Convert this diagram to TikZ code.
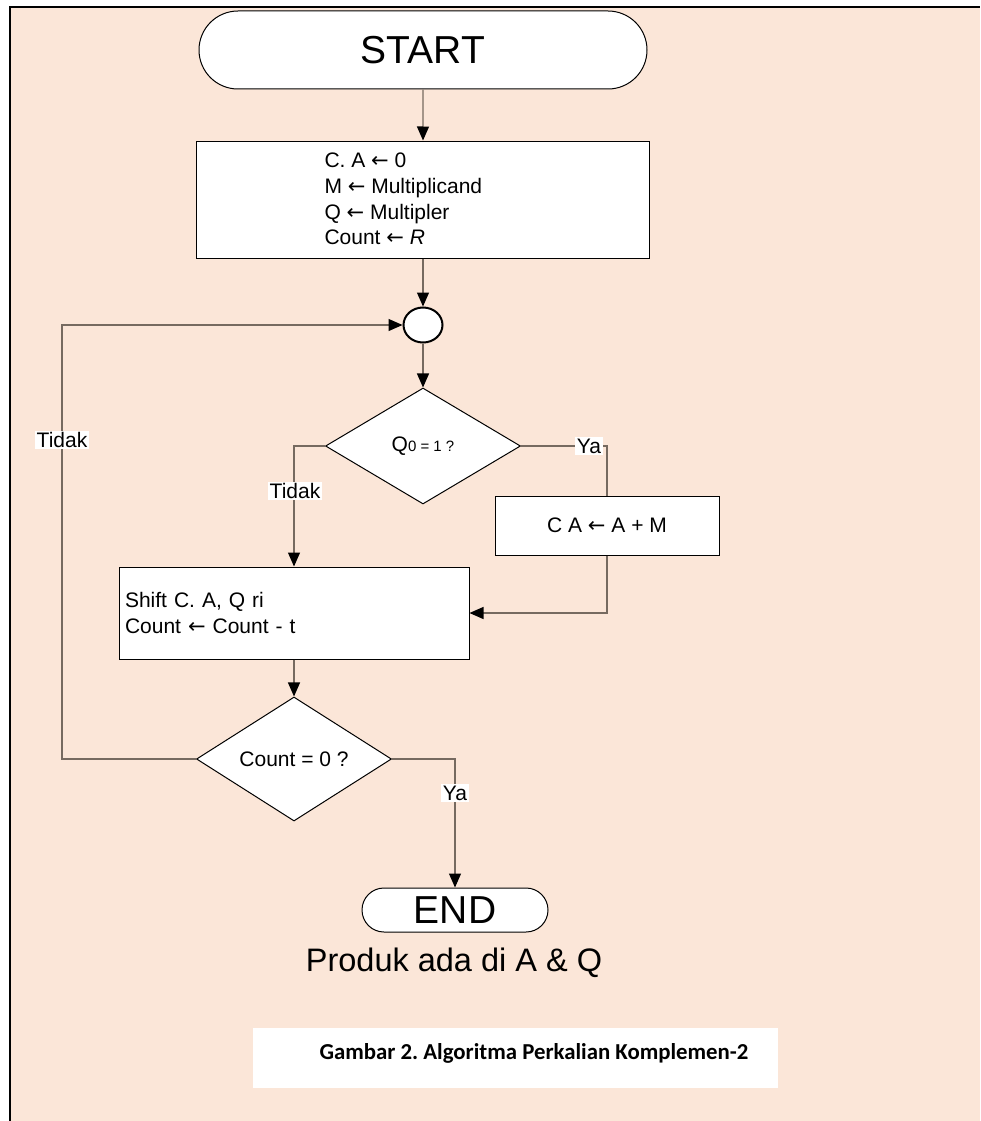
\documentclass[tikz,border=0pt]{standalone}
\usepackage{fontspec}
\setmainfont{Liberation Sans}
\newfontfamily\capfont{Carlito}
\newfontfamily\panahfont{DejaVu Sans}
\newcommand{\kiri}{{\panahfont ←}}
\usetikzlibrary{shapes.geometric,shapes.misc,arrows.meta}
\definecolor{latar}{RGB}{251,230,216}
\definecolor{garis}{RGB}{118,106,96}
\tikzset{
  terminal/.style={rounded rectangle, draw=black, fill=white, line width=1pt,
    inner sep=0pt, font=\fontsize{39}{39}\selectfont},
  kotak/.style={rectangle, draw=black, fill=white, line width=1pt, inner sep=0pt},
  putusan/.style={diamond, draw=black, fill=white, line width=1pt, inner sep=0pt,
    minimum width=195pt, minimum height=116pt},
  hubung/.style={draw=garis, line width=1.2pt},
  alur/.style={hubung, -{Triangle[length=14pt, width=12pt, color=black]}},
  ket/.style={fill=white, inner sep=1.5pt, font=\fontsize{21}{21}\selectfont},
}
\frenchspacing
\begin{document}
\begin{tikzpicture}[x=1pt, y=-1pt, font=\fontsize{21}{25.7}\selectfont]
    \useasboundingbox (0,0) rectangle (980,1121);

    % latar
    \fill[latar] (10,7) rectangle (980,1121);
    \draw[line width=2.5pt] (10,1121) -- (10,7) -- (980,7);

    % simpul
    \node[terminal, minimum width=448pt, minimum height=78pt] (start) at (423,50) {START};
    \node[kotak, minimum width=453pt, minimum height=117pt] (init) at (423,199.5) {};
    \node[anchor=west, align=left] (initteks) at (321,199)
        {C. A \kiri\ 0\\M \kiri\ Multiplicand\\Q \kiri\ Multipler\\Count \kiri\ \textit{R}};
    \node[ellipse, draw=black, line width=2pt, fill=white, inner sep=0pt,
        minimum width=39pt, minimum height=35pt] (gabung) at (423,325) {};
    \node[putusan] (uji1) at (423,446) {Q{\fontsize{15}{15}\selectfont 0 = 1 ?}};
    \node[kotak, minimum width=224pt, minimum height=59pt] (tambah) at (607,525.5) {C A \kiri\ A + M};
    \node[kotak, text width=338pt, align=left, inner sep=6pt, minimum height=92pt] (geser) at (294,613)
        {Shift C. A, Q ri\\Count \kiri\ Count - t};
    \node[putusan] (uji2) at (294,759) {Count = 0 ?};
    \node[terminal, minimum width=186pt, minimum height=44pt] (selesai) at (455,910) {END};
    \node[anchor=base, font=\fontsize{32.5}{32.5}\selectfont] (hasil) at (454,971) {Produk ada di A \& Q};

    % keterangan gambar
    \node[fill=white, minimum width=525pt, minimum height=60pt, inner sep=0pt] (kapkotak) at (515.5,1058) {};
    \node[anchor=base west, font=\capfont\bfseries\fontsize{22.8}{22.8}\selectfont] (kapsi) at (316,1059)
        {Gambar 2. Algoritma Perkalian Komplemen-2};

    % alur
    \draw[alur] (start) -- (init);
    \draw[alur] (init) -- (gabung);
    \draw[alur] (gabung) -- (uji1);
    \draw[hubung] (uji1.east) -| (tambah.north);
    \draw[alur] (tambah.south) |- (geser.east);
    \draw[alur] (uji1.west) -| (geser.north);
    \draw[alur] (geser) -- (uji2);
    \coordinate (balik) at (62,759);
    \draw[alur] (uji2.west) -- (balik) |- (gabung.west);
    \draw[alur] (uji2.east) -| (selesai.north);

    % label
    \node[ket] (ya1) at (589,446) {Ya};
    \node[ket] (tidak1) at (295,491) {Tidak};
    \node[ket] (tidak2) at (62,440) {Tidak};
    \node[ket] (ya2) at (455,793) {Ya};
\end{tikzpicture}
\end{document}
